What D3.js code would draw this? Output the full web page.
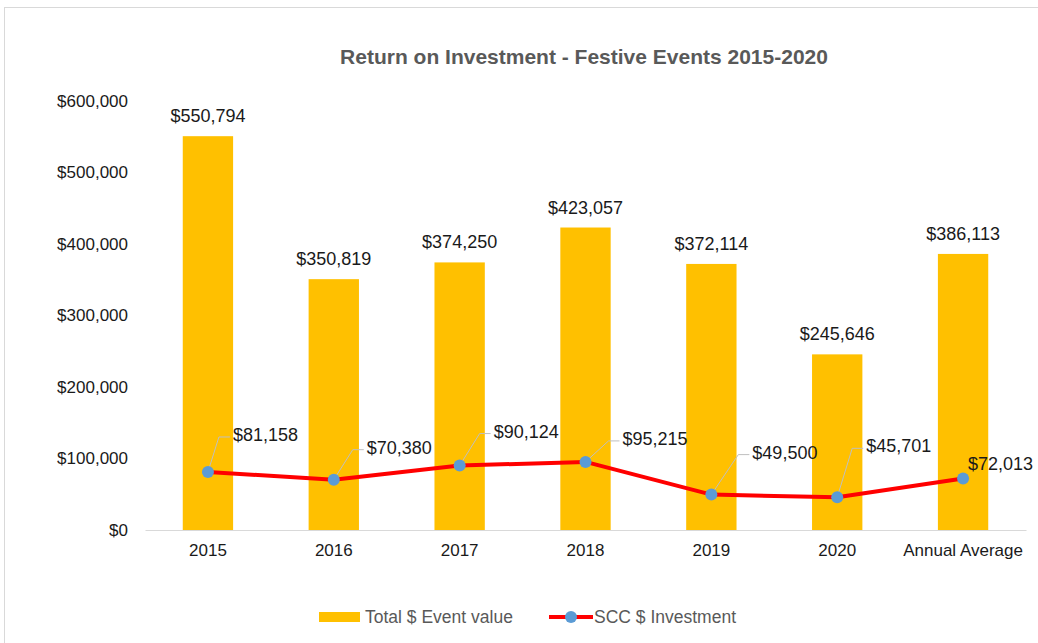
<!DOCTYPE html>
<html>
<head>
<meta charset="utf-8">
<script src="https://cdn.jsdelivr.net/npm/d3@7"></script>
<style>
  body { margin: 0; background: #fff; }
  text { font-family: "Liberation Sans", Arial, sans-serif; }
</style>
</head>
<body>
<div id="chart"></div>
<script>
// data
const categories = ["2015", "2016", "2017", "2018", "2019", "2020", "Annual Average"];
const eventValue = [550794, 350819, 374250, 423057, 372114, 245646, 386113];
const investment = [81158, 70380, 90124, 95215, 49500, 45701, 72013];
const yTicks = [0, 100000, 200000, 300000, 400000, 500000, 600000];

// where each investment label sits relative to its point (dx, dy) and whether it gets a leader line
const lineLabelOffsets = [[25, -37, true], [33, -32, true], [34, -34, true], [37, -23, true], [41, -42, true], [29, -51, true], [5, -15, false]];

const W = 1038, H = 643;
const margin = {top: 101, right: 12, bottom: 113, left: 145};
const width = W - margin.left - margin.right;
const height = H - margin.top - margin.bottom;

const svg = d3.select("#chart").append("svg")
    .attr("width", W).attr("height", H);

// outer chart border
svg.append("rect")
    .attr("x", 4.5).attr("y", 7.5)
    .attr("width", W + 10).attr("height", H + 10)
    .attr("fill", "none").attr("stroke", "#d9d9d9").attr("stroke-width", 1);

const g = svg.append("g").attr("transform", `translate(${margin.left},${margin.top})`);

const x = d3.scaleBand().domain(categories).range([0, width]).paddingInner(0.6).paddingOuter(0.3);
const y = d3.scaleLinear().domain([0, 600000]).range([height, 0]);
const fmt = d3.format("$,");

// title
svg.append("text")
    .attr("x", 584).attr("y", 64)
    .attr("text-anchor", "middle")
    .attr("font-size", 21).attr("font-weight", "bold")
    .attr("fill", "#595959")
    .text("Return on Investment - Festive Events 2015-2020");

// y axis (labels only)
const yAxis = g.append("g")
    .call(d3.axisLeft(y).tickValues(yTicks).tickFormat(fmt).tickSize(0).tickPadding(17));
yAxis.select(".domain").remove();
yAxis.selectAll("text").attr("font-size", 17).attr("fill", "#1a1a1a")
    .style("font-family", "'Liberation Sans', Arial, sans-serif");

// bars
g.selectAll(".bar")
    .data(eventValue)
    .enter().append("rect")
    .attr("class", "bar")
    .attr("x", (d, i) => x(categories[i]))
    .attr("width", x.bandwidth())
    .attr("y", d => y(d))
    .attr("height", d => height - y(d))
    .attr("fill", "#FFC000");

// bar labels
g.selectAll(".barlabel")
    .data(eventValue)
    .enter().append("text")
    .attr("x", (d, i) => x(categories[i]) + x.bandwidth() / 2)
    .attr("y", d => y(d) - 14)
    .attr("text-anchor", "middle")
    .attr("font-size", 18).attr("fill", "#1a1a1a")
    .text(d => fmt(d));

// x axis
const xAxis = g.append("g")
    .attr("transform", `translate(0,${height})`)
    .call(d3.axisBottom(x).tickSize(0).tickPadding(14));
xAxis.select(".domain").attr("stroke", "#d9d9d9");
xAxis.selectAll("text").attr("font-size", 17).attr("fill", "#1a1a1a")
    .style("font-family", "'Liberation Sans', Arial, sans-serif");

// investment line
const cx = i => x(categories[i]) + x.bandwidth() / 2;
const line = d3.line().x((d, i) => cx(i)).y(d => y(d));
g.append("path")
    .datum(investment)
    .attr("d", line)
    .attr("fill", "none")
    .attr("stroke", "#FF0000")
    .attr("stroke-width", 4)
    .attr("stroke-linejoin", "round");

// leader lines
investment.forEach((d, i) => {
    const [dx, dy, leader] = lineLabelOffsets[i];
    if (!leader) return;
    const px = cx(i), py = y(d);
    g.append("polyline")
        .attr("points", `${px},${py} ${px + dx - 14},${py + dy + 2} ${px + dx - 3},${py + dy + 2}`)
        .attr("fill", "none").attr("stroke", "#bfbfbf").attr("stroke-width", 1);
});

g.selectAll(".dot")
    .data(investment)
    .enter().append("circle")
    .attr("cx", (d, i) => cx(i))
    .attr("cy", d => y(d))
    .attr("r", 6)
    .attr("fill", "#5B9BD5");

g.selectAll(".linelabel")
    .data(investment)
    .enter().append("text")
    .attr("x", (d, i) => cx(i) + lineLabelOffsets[i][0])
    .attr("y", (d, i) => y(d) + lineLabelOffsets[i][1] + 6)
    .attr("font-size", 18).attr("fill", "#1a1a1a")
    .text(d => fmt(d));

// legend
const lg = svg.append("g").attr("transform", "translate(319,617)");
lg.append("rect").attr("x", 0).attr("y", -5).attr("width", 41).attr("height", 10).attr("fill", "#FFC000");
lg.append("text").attr("x", 46).attr("y", 6).attr("font-size", 17.5).attr("fill", "#595959").text("Total $ Event value");
lg.append("line").attr("x1", 230).attr("x2", 274).attr("y1", 0).attr("y2", 0)
    .attr("stroke", "#FF0000").attr("stroke-width", 4);
lg.append("circle").attr("cx", 252).attr("cy", 0).attr("r", 6).attr("fill", "#5B9BD5");
lg.append("text").attr("x", 275).attr("y", 6).attr("font-size", 17.5).attr("fill", "#595959").text("SCC $ Investment");
</script>
</body>
</html>
